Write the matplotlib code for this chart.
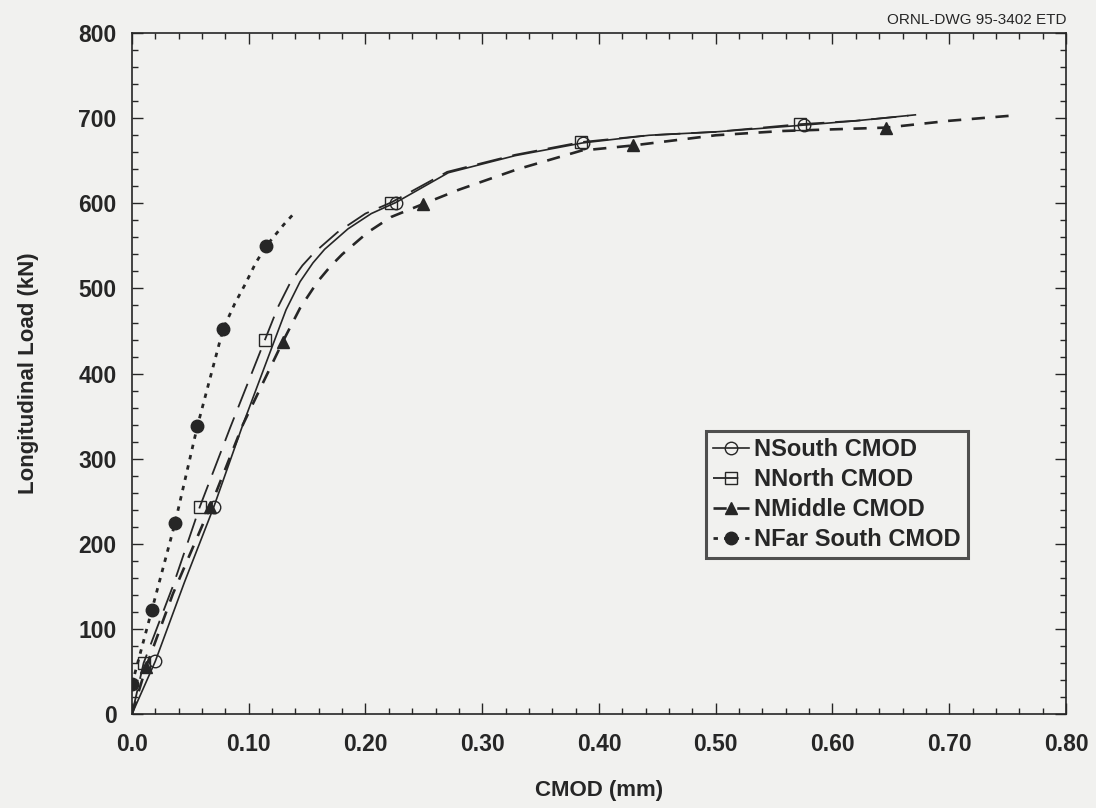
import matplotlib
matplotlib.use("Agg")
import matplotlib.pyplot as plt
from matplotlib.ticker import MultipleLocator, FixedLocator, FixedFormatter

plt.rcParams["font.family"] = ["Liberation Sans", "DejaVu Sans"]
plt.rcParams["font.weight"] = "bold"

# ---- data (CMOD in mm, load in kN) ----
south_x = [0.0, 0.02, 0.045, 0.07, 0.095, 0.121, 0.132, 0.144, 0.155, 0.165,
           0.185, 0.205, 0.226, 0.271, 0.328, 0.386, 0.443, 0.5, 0.557, 0.576,
           0.62, 0.671]
south_y = [0, 62, 155, 243, 340, 435, 475, 508, 530, 546,
           570, 588, 601, 636, 656, 671, 680, 684, 690, 692,
           697, 704]
south_marks = [1, 3, 12, 15, 19]

north_x = [0.0, 0.01, 0.035, 0.058, 0.084, 0.114, 0.125, 0.136, 0.146, 0.156,
           0.176, 0.2, 0.222, 0.27, 0.328, 0.385, 0.443, 0.5, 0.572, 0.62,
           0.665]
north_y = [0, 60, 150, 243, 336, 440, 478, 508, 527, 542,
           566, 588, 601, 637, 657, 672, 680, 684, 693, 697,
           703]
north_marks = [1, 3, 5, 12, 15, 18]

middle_x = [0.0, 0.012, 0.035, 0.067, 0.095, 0.129, 0.144, 0.159, 0.17, 0.18,
            0.202, 0.222, 0.249, 0.28, 0.33, 0.385, 0.429, 0.5, 0.557, 0.646,
            0.7, 0.753]
middle_y = [0, 55, 141, 243, 340, 437, 477, 508, 526, 540,
            566, 584, 599, 616, 640, 662, 668, 680, 685, 689,
            697, 703]
middle_marks = [1, 3, 5, 12, 16, 19]

far_x = [0.0, 0.017, 0.037, 0.056, 0.078, 0.088, 0.097, 0.106, 0.115, 0.13, 0.14]
far_y = [35, 122, 225, 338, 452, 482, 505, 530, 550, 575, 590]
far_marks = [0, 1, 2, 3, 4, 8]

labels = ["NSouth CMOD", "NNorth CMOD", "NMiddle CMOD", "NFar South CMOD"]
x_ticks = [0.0, 0.1, 0.2, 0.3, 0.4, 0.5, 0.6, 0.7, 0.8]
x_tick_labels = ["0.0", "0.10", "0.20", "0.30", "0.40", "0.50", "0.60", "0.70", "0.80"]

ink = "#262626"
paper = "#f1f1ef"

fig = plt.figure(figsize=(10.96, 8.08), dpi=100, facecolor=paper)
ax = fig.add_axes([0.1204, 0.1163, 0.8522, 0.8427], facecolor=paper)

ax.plot(south_x, south_y, color=ink, lw=1.2, ls="-", marker="o", ms=9,
        mfc="none", mec=ink, mew=1.0, markevery=south_marks, label=labels[0])
ax.plot(north_x, north_y, color=ink, lw=1.3, dashes=(14, 6), marker="s", ms=9,
        mfc="none", mec=ink, mew=1.0, markevery=north_marks, label=labels[1])
ax.plot(middle_x, middle_y, color=ink, lw=1.9, dashes=(5, 4), marker="^", ms=8,
        mfc=ink, mec=ink, markevery=middle_marks, label=labels[2])
ax.plot(far_x, far_y, color=ink, lw=2.0, dashes=(1.6, 2.2), marker="o", ms=9,
        mfc=ink, mec=ink, markevery=far_marks, label=labels[3])

ax.set_xlim(0, 0.8)
ax.set_ylim(0, 800)
ax.xaxis.set_major_locator(FixedLocator(x_ticks))
ax.xaxis.set_major_formatter(FixedFormatter(x_tick_labels))
ax.xaxis.set_minor_locator(MultipleLocator(0.02))
ax.yaxis.set_major_locator(MultipleLocator(100))
ax.yaxis.set_minor_locator(MultipleLocator(20))
ax.tick_params(which="both", direction="in", top=True, right=True,
               color=ink, width=1.0)
ax.tick_params(which="major", length=8, labelsize=16.5, labelcolor=ink)
ax.tick_params(axis="x", which="major", pad=14)
ax.tick_params(axis="y", which="major", pad=11)
ax.tick_params(which="minor", length=4)
for spine in ax.spines.values():
    spine.set_color(ink)
    spine.set_linewidth(1.2)

ax.set_xlabel("CMOD (mm)", fontsize=16, fontweight="bold", color=ink, labelpad=17)
ax.set_ylabel("Longitudinal Load (kN)", fontsize=16, fontweight="bold", color=ink, labelpad=28)

leg = ax.legend(loc="lower left", bbox_to_anchor=(0.6146, 0.229), fontsize=17,
                frameon=True, fancybox=False, handlelength=1.5, handletextpad=0.25,
                borderpad=0.3, labelspacing=0.3, borderaxespad=0)
leg.get_frame().set_edgecolor(ink)
leg.get_frame().set_linewidth(2.2)
leg.get_frame().set_facecolor(paper)
for t in leg.get_texts():
    t.set_fontweight("bold")
    t.set_color(ink)

fig.text(0.9735, 0.975, "ORNL-DWG 95-3402 ETD", ha="right", va="center",
         fontsize=11, fontweight="normal", color=ink)

fig.savefig("out.png", dpi=100, facecolor=paper)
